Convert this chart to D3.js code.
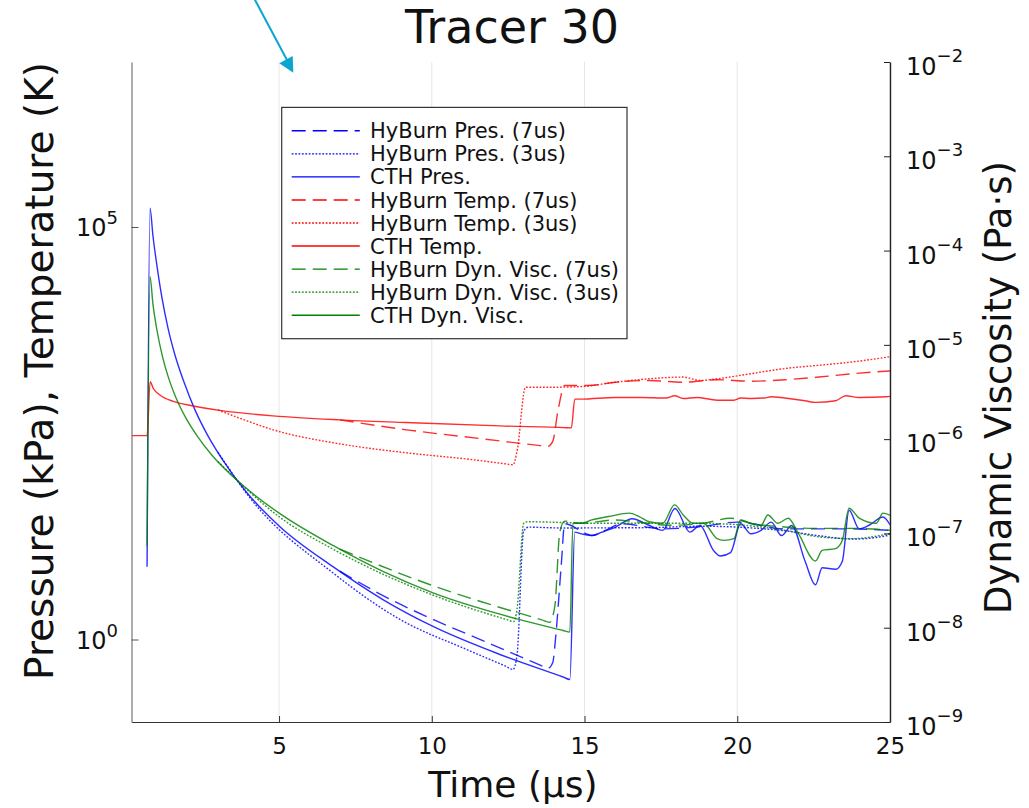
<!DOCTYPE html>
<html><head><meta charset="utf-8">
<script src="https://cdn.jsdelivr.net/npm/d3@7"></script>
<style>body{margin:0;background:#fff} text{font-family:"DejaVu Sans",sans-serif;fill:#111}</style>
</head><body><svg id="c" width="1029" height="808"></svg>
<script>
// ---------- data ----------
const title = "Tracer 30";
const xLabel = "Time (µs)";
const yLeftLabel = "Pressure (kPa), Temperature (K)";
const yRightLabel = "Dynamic Viscosity (Pa·s)";
const xLimits = [0.17, 25];
const leftLimits = [0.1, 1e7];
const rightLimits = [1e-9, 1e-2];
const xTicks = [5, 10, 15, 20, 25];
const leftTicks = [1, 1e5];
const rightTicks = [1e-2, 1e-3, 1e-4, 1e-5, 1e-6, 1e-7, 1e-8, 1e-9];

const hbPres7T = [6.99,8.40,10.04,11.67,13.55,13.80,13.96,14.07,14.24,14.35,15.06,15.24,15.68,16.23,17.56,18.77,20.0,21.55,23.78,25.0];
const hbPres7V = [6.73,3.41,1.75,0.97,0.489,0.446,0.527,1.23,8.15,25.3,19.1,18.2,21,25.3,21.9,23.3,26.5,21.9,21.9,21];

const hbPres3T = [3.0,4.05,6.77,8.96,11.14,12.4,12.66,12.79,13.01,13.18,14.19,17.14,18.77,21.55,22.67,23.78,24.89,25.0];
const hbPres3V = [186,52,6.4,1.75,0.757,0.478,0.434,0.64,20.8,23,22.5,22.7,23.6,20.8,18.1,16.5,18.1,19.2];

const cthPresT = [0.68,0.775,0.874,1.005,1.169,1.365,1.593,1.888,2.248,2.673,3.131,3.949,5.029,6.764,8.40,10.04,12.23,14.3,14.52,14.68,14.90,15.24,15.57,16.01,16.56,17.12,17.56,17.96,18.45,18.78,19.23,19.45,19.78,20.11,20.45,20.78,21.11,21.45,21.78,22.22,22.56,22.78,23.22,23.44,23.66,23.99,24.34,24.77,25.0];
const cthPresV = [7.6,1.69e5,7.73e4,3.35e4,1.37e4,5.96e3,2.81e3,1.32e3,607,294,155,60.1,23.3,7.64,3.05,1.44,0.658,0.351,0.328,20,19.1,18.2,20.0,23.0,29.1,24.1,21.0,38.7,20.0,24.1,11.9,10.3,11.3,25.3,19.1,21.0,26.5,18.2,24.1,8.9,4.6,7.4,7.1,8.9,36.9,21.9,24.6,30.5,24.6];

const hbTemp7T = [6.99,9.18,11.57,13.55,13.79,13.96,14.13,14.35,14.68,15.13,16.01,17.12,18.23,19.34,20.45,21.55,22.67,23.78,25.0];
const hbTemp7V = [459,348,273,224,219,252,590,1197,1197,1197,1315,1380,1315,1407,1352,1407,1517,1667,1797];

const hbTemp3T = [3.0,3.72,4.81,6.99,9.18,11.35,12.45,12.66,12.79,13.07,13.79,14.90,16.01,17.12,18.23,18.78,19.34,20.45,21.55,22.67,23.78,25.0];
const hbTemp3V = [605,480,348,235,183,151,134,131,190,1141,1141,1164,1315,1446,1517,1380,1446,1667,1923,2108,2317,2672];

const cthTempT = [0.17,0.68,0.78,0.88,1.10,1.54,2.14,3.12,4.81,6.99,9.18,12.23,14.4,14.57,14.68,14.90,16.01,16.90,17.67,17.95,18.23,18.67,19.34,19.89,20.11,20.45,20.89,21.11,21.55,22.22,22.56,23.22,23.55,23.99,24.89,25.0];
const cthTempV = [296,296,1335,1110,921,769,682,595,513,459,426,388,369,367,819,819,859,859,845,901,835,859,796,796,845,835,845,877,845,783,748,783,901,859,877,885];

const hbVisc7T = [6.99,10.05,11.57,13.6,13.86,14.03,14.19,14.35,14.90,16.01,16.68,17.78,18.89,19.78,20.45,21.55,22.67,23.78,25.0];
const hbVisc7V = [6.83e-8,2.78e-8,1.91e-8,1.21e-8,1.14e-8,1.71e-8,1.03e-7,1.35e-7,1.28e-7,1.39e-7,1.33e-7,1.22e-7,1.28e-7,1.45e-7,1.28e-7,1.17e-7,1.13e-7,1.13e-7,1.08e-7];

const hbVisc3T = [3.0,5.03,6.77,10.05,11.57,12.45,12.68,12.79,13.01,13.13,15.5,18.77,21.55,22.67,23.78,25.0];
const hbVisc3V = [5.8e-7,1.48e-7,6.8e-8,2.21e-8,1.49e-8,1.22e-8,1.16e-8,1.57e-8,1.28e-7,1.33e-7,1.28e-7,1.28e-7,1.08e-7,9.2e-8,8.8e-8,1.0e-7];

const cthViscT = [0.68,0.775,0.874,1.005,1.169,1.365,1.626,1.953,2.346,2.804,3.393,4.048,5.029,6.764,8.40,10.04,12.79,14.3,14.52,14.62,14.90,15.24,15.79,16.46,16.79,17.12,17.56,17.95,18.23,18.56,18.89,19.34,19.56,19.89,20.11,20.45,20.78,21.00,21.33,21.67,22.00,22.56,22.78,23.22,23.44,23.66,23.99,24.55,24.77,25.0];
const cthViscV = [7.3e-8,5.28e-5,2.67e-5,1.42e-5,7.88e-6,4.66e-6,2.75e-6,1.67e-6,1.05e-6,6.76e-7,4.29e-7,2.80e-7,1.62e-7,7.45e-8,3.95e-8,2.34e-8,1.24e-8,9.35e-9,8.98e-9,1.28e-7,1.28e-7,1.39e-7,1.51e-7,1.64e-7,1.51e-7,1.33e-7,1.28e-7,2.01e-7,1.57e-7,1.28e-7,1.28e-7,8.8e-8,8.45e-8,8.8e-8,1.39e-7,1.28e-7,1.22e-7,1.57e-7,1.28e-7,1.45e-7,1.0e-7,5.1e-8,6.6e-8,6.9e-8,8.45e-8,1.85e-7,1.45e-7,1.28e-7,1.64e-7,1.56e-7];

const seriesLabels = ["HyBurn Pres. (7us)","HyBurn Pres. (3us)","CTH Pres.","HyBurn Temp. (7us)","HyBurn Temp. (3us)","CTH Temp.","HyBurn Dyn. Visc. (7us)","HyBurn Dyn. Visc. (3us)","CTH Dyn. Visc."];

// ---------- setup ----------
const svg = d3.select("#c");
const L = 131.5, R = 890, T = 62, B = 722;
const x = d3.scaleLinear().domain(xLimits).range([L, R]);
const yL = d3.scaleLog().domain(leftLimits).range([B, T]);
const yR = d3.scaleLog().domain(rightLimits).range([B, T]);

const BLUE = "#0000ff", RED = "#ff0000", GREEN = "#008000";
const DASH = "14,7", DOT = "1.8,1.6";
const series = [
  {t: hbPres7T, v: hbPres7V, c: BLUE, d: DASH, y: yL},
  {t: hbPres3T, v: hbPres3V, c: BLUE, d: DOT, y: yL},
  {t: cthPresT, v: cthPresV, c: BLUE, d: null, y: yL},
  {t: hbTemp7T, v: hbTemp7V, c: RED, d: DASH, y: yL},
  {t: hbTemp3T, v: hbTemp3V, c: RED, d: DOT, y: yL},
  {t: cthTempT, v: cthTempV, c: RED, d: null, y: yL},
  {t: hbVisc7T, v: hbVisc7V, c: GREEN, d: DASH, y: yR},
  {t: hbVisc3T, v: hbVisc3V, c: GREEN, d: DOT, y: yR},
  {t: cthViscT, v: cthViscV, c: GREEN, d: null, y: yR}
];
series.forEach((s, i) => s.label = seriesLabels[i]);

svg.append("rect").attr("width", 1029).attr("height", 808).attr("fill", "#fff");

// grid
svg.append("g").selectAll("line").data(xTicks).join("line")
  .attr("x1", d => x(d)).attr("x2", d => x(d)).attr("y1", T).attr("y2", B)
  .attr("stroke", "#e6e6e6").attr("stroke-width", 1);

// clip
svg.append("defs").append("clipPath").attr("id", "pa").append("rect")
  .attr("x", L).attr("y", T).attr("width", R - L).attr("height", B - T);

const gl = svg.append("g").attr("clip-path", "url(#pa)");
series.forEach(s => {
  const pts = s.t.map((t, i) => [t, s.v[i]]);
  const line = d3.line().x(d => x(d[0])).y(d => s.y(d[1])).curve(d3.curveMonotoneX);
  gl.append("path").attr("d", line(pts)).attr("fill", "none")
    .attr("stroke", s.c).attr("stroke-width", 1.4).attr("stroke-opacity", 0.82)
    .attr("stroke-dasharray", s.d);
});

// axes
const gx = svg.append("g").attr("transform", `translate(0,${B})`)
  .call(d3.axisBottom(x).tickValues(xTicks).tickSizeInner(-6).tickSizeOuter(0).tickPadding(16).tickFormat(d3.format("d")));
gx.select(".domain").attr("stroke", "#333").attr("stroke-width", 1.2);
gx.selectAll(".tick line").attr("stroke", "#333");
gx.selectAll(".tick text").style("font-size", "23px").style("font-family", "DejaVu Sans").attr("fill", "#111");

const gyl = svg.append("g").attr("transform", `translate(${L},0)`)
  .call(d3.axisLeft(yL).tickValues(leftTicks).tickSizeInner(-7).tickSizeOuter(0).tickFormat(""));
gyl.select(".domain").attr("stroke", "#777").attr("stroke-width", 1.2);
gyl.selectAll(".tick line").attr("stroke", "#555");

const gyr = svg.append("g").attr("transform", `translate(${R},0)`)
  .call(d3.axisRight(yR).tickValues(rightTicks).tickSizeInner(-6).tickSizeOuter(0).tickFormat(""));
gyr.select(".domain").attr("stroke", "#222").attr("stroke-width", 1.4);
gyr.selectAll(".tick line").attr("stroke", "#222");

function expStr(v) { const e = Math.round(Math.log10(v)); return (e < 0 ? "\u2212" : "") + Math.abs(e); }

leftTicks.forEach(v => {
  const t = svg.append("text").attr("x", 118).attr("y", yL(v) + 9).attr("text-anchor", "end").style("font-size", "24px");
  t.append("tspan").text("10");
  t.append("tspan").attr("dy", -12).style("font-size", "18px").text(expStr(v));
});
rightTicks.forEach(v => {
  const t = svg.append("text").attr("x", 906).attr("y", yR(v) + 13).attr("text-anchor", "start").style("font-size", "24px");
  t.append("tspan").text("10");
  t.append("tspan").attr("dy", -13).style("font-size", "18px").text(expStr(v));
});

// titles
svg.append("text").attr("x", 512).attr("y", 43).attr("text-anchor", "middle").style("font-size", "46px").text(title);
svg.append("text").attr("x", 513).attr("y", 797).attr("text-anchor", "middle").style("font-size", "36px").text(xLabel);
svg.append("text").attr("transform", "translate(53,371) rotate(-90)").attr("text-anchor", "middle").style("font-size", "39px").text(yLeftLabel);
svg.append("text").attr("transform", "translate(1011,387.5) rotate(-90)").attr("text-anchor", "middle").style("font-size", "37px").text(yRightLabel);

// legend
const lg = svg.append("g");
lg.append("rect").attr("x", 281.7).attr("y", 107.4).attr("width", 345.3).attr("height", 231.3)
  .attr("fill", "#fff").attr("stroke", "#333").attr("stroke-width", 1.2);
series.forEach((s, i) => {
  const yy = 130.8 + i * 23.05;
  lg.append("line").attr("x1", 291.7).attr("x2", 359.8).attr("y1", yy).attr("y2", yy)
    .attr("stroke", s.c).attr("stroke-width", 1.4).attr("stroke-dasharray", s.d);
  lg.append("text").attr("x", 370).attr("y", yy).attr("dy", "0.36em").style("font-size", "21px").attr("fill", "#111").text(s.label);
});

// annotation arrow
svg.append("line").attr("x1", 254).attr("y1", -2).attr("x2", 287).attr("y2", 60)
  .attr("stroke", "#0aa6d0").attr("stroke-width", 2);
svg.append("path").attr("d", "M279.3,63.3 L292.7,56 L293.3,72.7 Z").attr("fill", "#0aa6d0");
</script></body></html>
